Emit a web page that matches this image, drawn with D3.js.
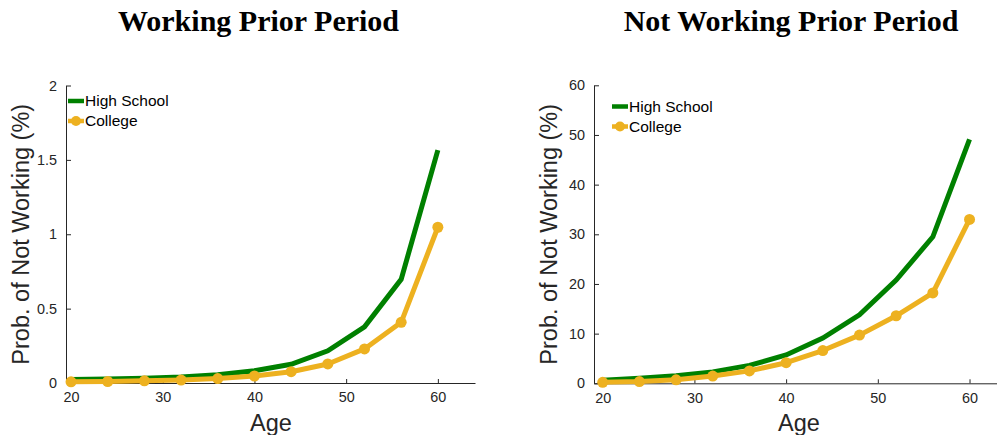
<!DOCTYPE html>
<html>
<head>
<meta charset="utf-8">
<script src="https://cdn.jsdelivr.net/npm/d3@7"></script>
<style>
  html, body { margin: 0; padding: 0; background: #fff; }
  svg { display: block; }
</style>
</head>
<body>
<svg id="chart" width="997" height="435"></svg>
<script>
// ---- data ----
const ages = [20, 24, 28, 32, 36, 40, 44, 48, 52, 56, 60];
const seriesNames = ["High School", "College"];
const panelTitles = ["Working Prior Period", "Not Working Prior Period"];
const workingHighSchool = [0.023, 0.027, 0.032, 0.040, 0.055, 0.083, 0.126, 0.217, 0.378, 0.697, 1.566];
const workingCollege    = [0.008, 0.010, 0.015, 0.020, 0.030, 0.047, 0.076, 0.128, 0.229, 0.408, 1.047];
const notWorkingHighSchool = [0.6, 1.0, 1.5, 2.3, 3.6, 5.7, 9.1, 13.8, 20.8, 29.5, 49.1];
const notWorkingCollege    = [0.2, 0.35, 0.7, 1.45, 2.5, 4.15, 6.6, 9.7, 13.6, 18.2, 33.0];
const xTicks = [20, 30, 40, 50, 60];
const yTicksLeft = [0, 0.5, 1, 1.5, 2];
const yTicksRight = [0, 10, 20, 30, 40, 50, 60];
const xLabel = "Age";
const yLabel = "Prob. of Not Working (%)";

const colors = { hs: "#008000", col: "#EDB120" };
const axisColor = "#262626";
const sans = "'Liberation Sans', Arial, sans-serif";
const serif = "'Palatino Linotype', 'Book Antiqua', Palatino, 'P052', 'URW Palladio L', 'Liberation Serif', serif";

const svg = d3.select("#chart");

const panels = [
  { title: panelTitles[0], titleX: 258.5, hs: workingHighSchool, col: workingCollege,
    xDomain: [19.45, 64.05], xRange: [66, 475], yDomain: [0, 2], yRange: [383, 85.5],
    yTicks: yTicksLeft, legend: { x: 68, y: 101 } },
  { title: panelTitles[1], titleX: 791, hs: notWorkingHighSchool, col: notWorkingCollege,
    xDomain: [19.05, 63.65], xRange: [594, 1003], yDomain: [0, 60], yRange: [383.3, 85.3],
    yTicks: yTicksRight, legend: { x: 612, y: 106.5 } }
];

panels.forEach(p => {
  const x = d3.scaleLinear().domain(p.xDomain).range(p.xRange);
  const y = d3.scaleLinear().domain(p.yDomain).range(p.yRange);
  const g = svg.append("g");

  // title
  g.append("text")
    .attr("x", p.titleX).attr("y", 31)
    .attr("text-anchor", "middle")
    .attr("font-family", serif).attr("font-weight", "bold").attr("font-size", 30)
    .attr("fill", "#000")
    .text(p.title);

  // x axis
  const xAxis = d3.axisBottom(x).tickValues(xTicks).tickSizeInner(-4).tickSizeOuter(0).tickPadding(9);
  const gx = g.append("g").attr("transform", `translate(0,${p.yRange[0]})`).call(xAxis);
  // y axis
  const yAxis = d3.axisLeft(y).tickValues(p.yTicks).tickFormat(d3.format("")).tickSizeInner(-5).tickSizeOuter(0).tickPadding(9);
  const gy = g.append("g").attr("transform", `translate(${p.xRange[0]},0)`).call(yAxis);

  [gx, gy].forEach(a => {
    a.select(".domain").attr("stroke", axisColor).attr("stroke-width", 1);
    a.selectAll(".tick line").attr("stroke", axisColor).attr("stroke-width", 1);
    a.selectAll(".tick text").attr("fill", axisColor).attr("font-family", sans).attr("font-size", 14.4);
  });
  gx.selectAll(".tick text").attr("dy", "0.71em");

  // axis labels
  g.append("text")
    .attr("x", p.xRange[0] + 205)
    .attr("y", 431)
    .attr("text-anchor", "middle")
    .attr("font-family", sans).attr("font-size", 23.5).attr("fill", axisColor)
    .text(xLabel);
  g.append("text")
    .attr("transform", `translate(${p.xRange[0] - 37},${(p.yRange[0] + p.yRange[1]) / 2}) rotate(-90)`)
    .attr("text-anchor", "middle")
    .attr("font-family", sans).attr("font-size", 23.5).attr("fill", axisColor)
    .text(yLabel);

  // lines
  const line = d3.line().x((d, i) => x(ages[i])).y(d => y(d));
  g.append("path").datum(p.hs)
    .attr("d", line).attr("fill", "none")
    .attr("stroke", colors.hs).attr("stroke-width", 5).attr("stroke-linejoin", "miter");
  g.append("path").datum(p.col)
    .attr("d", line).attr("fill", "none")
    .attr("stroke", colors.col).attr("stroke-width", 5).attr("stroke-linejoin", "round");
  g.selectAll(".mk").data(p.col).enter().append("circle")
    .attr("cx", (d, i) => x(ages[i])).attr("cy", d => y(d)).attr("r", 5.5)
    .attr("fill", colors.col);

  // legend
  const lg = g.append("g").attr("transform", `translate(${p.legend.x},${p.legend.y})`);
  const items = [{ name: seriesNames[0], c: colors.hs, mk: false }, { name: seriesNames[1], c: colors.col, mk: true }];
  items.forEach((it, i) => {
    const row = lg.append("g").attr("transform", `translate(0,${i * 20})`);
    row.append("line").attr("x1", 0).attr("x2", 16).attr("y1", 0).attr("y2", 0)
      .attr("stroke", it.c).attr("stroke-width", 4.5);
    if (it.mk) row.append("circle").attr("cx", 8).attr("cy", 0).attr("r", 5).attr("fill", it.c);
    row.append("text").attr("x", 17).attr("y", 5.3)
      .attr("font-family", sans).attr("font-size", 15.5).attr("fill", "#000")
      .text(it.name);
  });
});
</script>
</body>
</html>
